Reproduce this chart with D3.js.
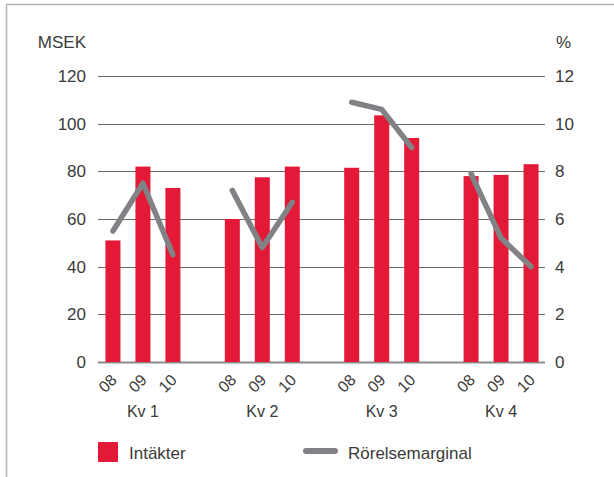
<!DOCTYPE html>
<html>
<head>
<meta charset="utf-8">
<script src="https://cdn.jsdelivr.net/npm/d3@7"></script>
<style>
  body { margin: 0; background: #fff; }
  text { font-family: "Liberation Sans", Arial, sans-serif; fill: #3a3a3a; }
</style>
</head>
<body>
<div id="chart"></div>
<script>
// data
var quarters = ["Kv 1", "Kv 2", "Kv 3", "Kv 4"];
var years = ["08", "09", "10"];
var revenue = [[51, 82, 73], [60, 77.5, 82], [81.5, 103.5, 94], [78, 78.5, 83]];
var opMargin = [[5.5, 7.5, 4.5], [7.2, 4.8, 6.7], [10.9, 10.6, 9.0], [7.9, 5.2, 4.0]];
var leftTicks = [0, 20, 40, 60, 80, 100, 120];
var rightTicks = [0, 2, 4, 6, 8, 10, 12];

var svgWidth = 614;
var svgHeight = 477;

var margin = { top: 76, right: 69, bottom: 115, left: 99 };
var width = svgWidth - margin.left - margin.right;
var height = svgHeight - margin.top - margin.bottom;

var red = "#e31937";
var grey = "#808285";

var svg = d3.select("#chart")
  .append("svg")
  .attr("width", svgWidth)
  .attr("height", svgHeight);

// frame (top and left only)
svg.append("path")
  .attr("d", "M6.5,477 V4.5 H614")
  .attr("fill", "none")
  .attr("stroke", "#b4b4b4")
  .attr("stroke-width", 1.5);

var chartGroup = svg.append("g")
  .attr("transform", `translate(${margin.left}, ${margin.top})`);

// scales
var x0 = d3.scaleBand()
  .domain(quarters)
  .range([0, width])
  .paddingInner(0.372)
  .paddingOuter(0.054);

var x1 = d3.scaleBand()
  .domain(years)
  .range([0, x0.bandwidth()])
  .paddingInner(0.5)
  .paddingOuter(0);

var yLeft = d3.scaleLinear().domain([0, 120]).range([height, 0]);
var yRight = d3.scaleLinear().domain([0, 12]).range([height, 0]);

// gridlines
chartGroup.append("g")
  .selectAll("line")
  .data(leftTicks)
  .enter()
  .append("line")
  .attr("x1", -1)
  .attr("x2", width)
  .attr("y1", d => Math.round(yLeft(d)) + 0.5)
  .attr("y2", d => Math.round(yLeft(d)) + 0.5)
  .attr("stroke", d => d === 0 ? "#8a8a8a" : "#6a6a6a")
  .attr("stroke-width", d => d === 0 ? 2 : 1);

// left axis labels
var leftAxis = d3.axisLeft(yLeft).tickValues(leftTicks).tickSize(0).tickPadding(13);
var gl = chartGroup.append("g").call(leftAxis);
gl.select(".domain").remove();
gl.selectAll("text").style("font-size", "17px").attr("fill", "#3a3a3a");

var rightAxis = d3.axisRight(yRight).tickValues(rightTicks).tickSize(0).tickPadding(10);
var gr = chartGroup.append("g")
  .attr("transform", `translate(${width}, 0)`)
  .call(rightAxis);
gr.select(".domain").remove();
gr.selectAll("text").style("font-size", "17px").attr("fill", "#3a3a3a");

// unit labels
svg.append("text")
  .attr("x", 86)
  .attr("y", 48)
  .attr("text-anchor", "end")
  .style("font-size", "17px")
  .text("MSEK");

svg.append("text")
  .attr("x", 556)
  .attr("y", 48)
  .style("font-size", "17px")
  .text("%");

// bars
var groups = chartGroup.selectAll(".quarter")
  .data(quarters)
  .enter()
  .append("g")
  .attr("class", "quarter")
  .attr("transform", d => `translate(${x0(d)}, 0)`);

groups.selectAll("rect")
  .data((d, i) => revenue[i].map((v, j) => ({ year: years[j], value: v })))
  .enter()
  .append("rect")
  .attr("x", d => x1(d.year))
  .attr("width", x1.bandwidth())
  .attr("y", d => yLeft(d.value))
  .attr("height", d => height - yLeft(d.value))
  .attr("fill", red);

// margin line, one piece per quarter
var line = d3.line()
  .x(d => x1(d.year) + x1.bandwidth() / 2)
  .y(d => yRight(d.value));

groups.append("path")
  .datum((d, i) => opMargin[i].map((v, j) => ({ year: years[j], value: v })))
  .attr("d", line)
  .attr("fill", "none")
  .attr("stroke", grey)
  .attr("stroke-width", 5.5)
  .attr("stroke-linecap", "round")
  .attr("stroke-linejoin", "round");

// year labels, rotated
groups.selectAll(".yr")
  .data(years)
  .enter()
  .append("text")
  .attr("class", "yr")
  .attr("text-anchor", "end")
  .attr("transform", d => `translate(${x1(d) + x1.bandwidth() / 2 + 1}, ${height + 15}) rotate(-45)`)
  .attr("dy", "0.35em")
  .style("font-size", "16px")
  .text(d => d);

// quarter labels
groups.append("text")
  .attr("x", x0.bandwidth() / 2)
  .attr("y", height + 55)
  .attr("text-anchor", "middle")
  .style("font-size", "16px")
  .text(d => d);

// legend
svg.append("rect")
  .attr("x", 98)
  .attr("y", 442)
  .attr("width", 20)
  .attr("height", 20)
  .attr("fill", red);

svg.append("text")
  .attr("x", 129)
  .attr("y", 459)
  .style("font-size", "17px")
  .text("Intäkter");

svg.append("line")
  .attr("x1", 306)
  .attr("x2", 335)
  .attr("y1", 451)
  .attr("y2", 451)
  .attr("stroke", grey)
  .attr("stroke-width", 6)
  .attr("stroke-linecap", "round");

svg.append("text")
  .attr("x", 348)
  .attr("y", 459)
  .style("font-size", "17px")
  .text("Rörelsemarginal");
</script>
</body>
</html>
